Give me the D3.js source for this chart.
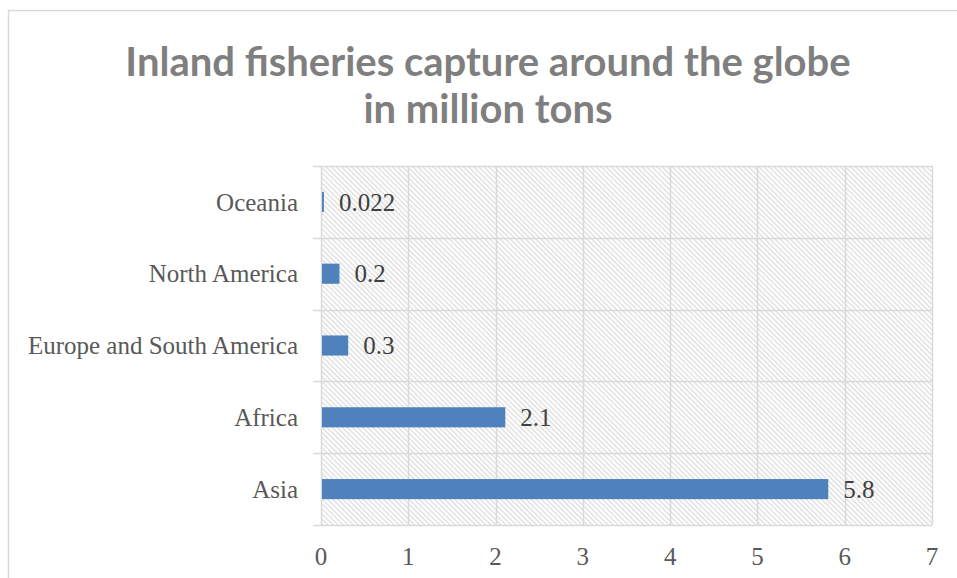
<!DOCTYPE html>
<html>
<head>
<meta charset="utf-8">
<script src="https://cdn.jsdelivr.net/npm/d3@7"></script>
<style>
	body { margin: 0; background: #fff; }
	svg { display: block; }
</style>
</head>
<body>
<div id="chart"></div>
<script>
var regions = ["Oceania", "North America", "Europe and South America", "Africa", "Asia"];
var capture = [0.022, 0.2, 0.3, 2.1, 5.8];
var captureLabels = ["0.022", "0.2", "0.3", "2.1", "5.8"];
var xTicks = [0, 1, 2, 3, 4, 5, 6, 7];
var titleLines = ["Inland fisheries capture around the globe", "in million tons"];

var width = 957, height = 578;
var plot = { left: 321, right: 932, top: 166, bottom: 525 };

var svg = d3.select("#chart").append("svg")
	.attr("width", width)
	.attr("height", height);

// hatched plot background
var defs = svg.append("defs");
defs.append("pattern")
	.attr("id", "hatch")
	.attr("patternUnits", "userSpaceOnUse")
	.attr("width", 3.6)
	.attr("height", 10)
	.attr("patternTransform", "rotate(-45)")
	.append("line")
	.attr("x1", 1).attr("y1", 0)
	.attr("x2", 1).attr("y2", 10)
	.attr("stroke", "#c9c9c9")
	.attr("stroke-width", 0.9);

// outer chart frame
svg.append("rect")
	.attr("x", 8.5).attr("y", 10.5)
	.attr("width", 1000).attr("height", 1000)
	.attr("fill", "#fff")
	.attr("stroke", "#d9d9d9")
	.attr("stroke-width", 1.5);

var x = d3.scaleLinear().domain([0, 7]).range([plot.left, plot.right]);
var y = d3.scaleBand().domain(regions).range([plot.top, plot.bottom]).padding(0);

svg.append("rect")
	.attr("x", plot.left).attr("y", plot.top)
	.attr("width", plot.right - plot.left)
	.attr("height", plot.bottom - plot.top)
	.attr("fill", "url(#hatch)");

// vertical gridlines
svg.append("g").selectAll("line")
	.data(xTicks)
	.enter().append("line")
	.attr("x1", function(d) { return Math.round(x(d)) + 0.5; })
	.attr("x2", function(d) { return Math.round(x(d)) + 0.5; })
	.attr("y1", plot.top)
	.attr("y2", plot.bottom)
	.attr("stroke", "#d9d9d9")
	.attr("stroke-width", 1.5);

// horizontal band lines (with little ticks to the left)
var bandEdges = regions.map(function(r) { return y(r); }).concat([plot.bottom]);
svg.append("g").selectAll("line")
	.data(bandEdges)
	.enter().append("line")
	.attr("x1", plot.left - 8)
	.attr("x2", plot.right)
	.attr("y1", function(d) { return Math.round(d) + 0.5; })
	.attr("y2", function(d) { return Math.round(d) + 0.5; })
	.attr("stroke", "#d9d9d9")
	.attr("stroke-width", 1.5);

// bars
var barH = y.bandwidth() * 0.28;
svg.append("g").selectAll("rect")
	.data(capture)
	.enter().append("rect")
	.attr("x", x(0) + 1)
	.attr("y", function(d, i) { return y(regions[i]) + (y.bandwidth() - barH) / 2; })
	.attr("width", function(d) { return x(d) - x(0); })
	.attr("height", barH)
	.attr("fill", "#4f81bd");

// value labels
svg.append("g").selectAll("text")
	.data(capture)
	.enter().append("text")
	.attr("x", function(d) { return x(d) + 16; })
	.attr("y", function(d, i) { return y(regions[i]) + y.bandwidth() / 2; })
	.attr("dy", "0.35em")
	.attr("font-family", "Liberation Serif, serif")
	.attr("font-size", 25)
	.attr("fill", "#404040")
	.text(function(d, i) { return captureLabels[i]; });

// category labels
svg.append("g").selectAll("text")
	.data(regions)
	.enter().append("text")
	.attr("x", plot.left - 23)
	.attr("y", function(d) { return y(d) + y.bandwidth() / 2; })
	.attr("dy", "0.35em")
	.attr("text-anchor", "end")
	.attr("font-family", "Liberation Serif, serif")
	.attr("font-size", 25)
	.attr("fill", "#595959")
	.text(function(d) { return d; });

// x tick labels
svg.append("g").selectAll("text")
	.data(xTicks)
	.enter().append("text")
	.attr("x", function(d) { return x(d); })
	.attr("y", 565)
	.attr("text-anchor", "middle")
	.attr("font-family", "Liberation Serif, serif")
	.attr("font-size", 25)
	.attr("fill", "#595959")
	.text(function(d) { return d; });

// title
svg.append("g").selectAll("text")
	.data(titleLines)
	.enter().append("text")
	.attr("x", 488)
	.attr("y", function(d, i) { return 76 + i * 47; })
	.attr("text-anchor", "middle")
	.attr("font-family", "Lato, sans-serif")
	.attr("font-weight", "bold")
	.attr("font-size", 40)
	.attr("fill", "#7f7f7f")
	.text(function(d) { return d; });
</script>
</body>
</html>
